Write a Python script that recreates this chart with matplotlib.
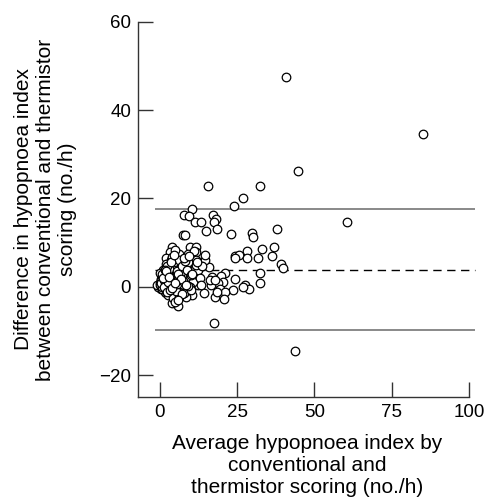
import numpy as np
import matplotlib.pyplot as plt

plt.rcParams['font.family'] = ['Liberation Sans', 'DejaVu Sans']

# 平均值(横轴) 与 差值(纵轴)
avg_index = [40.8, 85.1, 44.7, 15.5, 32.3, 27.0, 23.9, 10.6, 8.0, 9.5,
             17.2, 18.3, 17.7, 11.5, 13.2, 60.7, 14.9, 18.6, 23.2, 29.7,
             30.3, 38.0, 7.5, 8.3, 4.0, 9.7, 11.7, 28.2, 33.2, 36.9,
             24.4, 25.8, 24.4, 28.3, 31.8, 36.4, 39.3, 39.8, 32.3, 32.3,
             27.5, 28.8, 26.9, 24.4, 23.7, 21.1, 17.4, 43.7, 14.4,
             15.8, 17.0, 19.8, 20.5, 18.8, 19.4, 21.0, 20.7, 17.8, 16.7,
             16.4, 18.0, 18.5, 12.4, 12.3, 10.3, 8.6, 5.9, 4.0, 11.8,
             10.3, 8.8, 12.3, 14.8, 14.8, 11.8, 11.7, 11.7, 9.1, 9.1,
             7.5, 6.2, 3.2, 4.8, 2.1, 3.8, 5.4, 7.0, 1.1, 2.7,
             4.8, 6.4, 8.0, 9.7, 10.8, 9.7, 9.1, 7.5, 6.4, 5.4,
             3.8, 3.2, 2.1, 1.6, 0.5, -0.5, -0.9, 0.0, 0.5, 1.1,
             2.1, 3.2, 4.3, 5.4, 2.7, 4.3, 4.8, 6.4, 8.0, 10.2,
             0.2, 0.8, 1.4, 1.9, 2.5, 3.0, 3.6, 4.1, 4.6, 5.2,
             0.3, 1.0, 1.7, 2.3, 2.9, 3.4, 4.0, 4.9, 5.7, 6.5,
             0.6, 1.2, 1.8, 2.6, 3.3, 4.4, 5.0, 5.9, 6.8, 7.6,
             1.5, 2.2, 3.1, 3.9, 4.7, 5.5, 6.3, 7.2, 8.2, 9.0,
             0.9, 1.6, 2.4, 3.5, 4.5, 5.8, 6.9, 7.9, 8.9, 10.0,
             12.9, 13.6, 11.0, 9.4, 8.4, 7.1, 6.0, 13.4, 12.0, 10.5,
             0.4, 1.3, 2.0, 2.8, 3.7, 0.7, 1.5, 2.3, 3.2, 4.2,
             0.1, 0.9, 1.8, 2.6, 3.4, 1.1, 2.1, 3.0, 3.9, 4.8]
diff_index = [47.5, 34.5, 26.2, 22.8, 22.9, 20.2, 18.3, 17.6, 16.2, 16.0,
              16.2, 15.4, 14.6, 14.7, 14.7, 14.6, 12.7, 13.0, 12.0, 12.1,
              11.3, 13.1, 11.8, 11.8, 9.1, 9.1, 9.1, 8.1, 8.6, 8.9,
              6.9, 7.1, 6.4, 6.6, 6.6, 7.0, 5.1, 4.2, 3.0, 0.9,
              0.5, -0.4, 0.0, 1.8, -0.7, 3.2, -8.3, -14.6, -1.5,
              4.4, 2.3, 2.4, 1.1, 0.8, -0.4, -1.1, -2.8, -2.4, 0.4,
              1.5, 1.5, -1.1, 1.1, 0.4, -1.9, -2.4, -4.4, -3.6, 3.2,
              4.5, 4.2, 3.8, 6.0, 7.2, 7.9, 6.0, 4.9, 5.7, 7.5,
              6.2, 7.5, 7.9, 8.3, 6.4, 6.0, 5.3, 4.5, 3.8, 4.2,
              3.8, 3.0, 2.3, 2.1, 1.1, 0.0, -0.8, -1.5, -1.1, -0.4,
              0.0, 0.4, -1.5, -1.1, -0.4, 0.0, 0.4, 0.8, 1.5, 2.3,
              1.9, 1.5, 1.9, 1.1, -1.9, -2.6, -3.4, -2.3, -1.5, -0.8,
              0.3, -0.2, 0.6, 0.1, 0.9, -0.5, 1.3, 0.4, 2.0, -0.9,
              1.8, 2.6, 3.1, -0.3, 2.2, 3.3, 2.7, 1.4, 0.7, 4.6,
              -0.6, 1.0, 2.9, 3.6, 1.6, 4.9, 5.8, 2.4, 3.4, 1.2,
              2.5, 5.2, 4.0, 6.8, 5.5, 3.5, 6.1, 4.8, 5.9, 0.2,
              -0.1, 3.9, 4.7, 5.6, 7.1, 2.8, 1.7, 6.6, 3.7, 2.6,
              2.0, 4.8, 8.2, 6.9, 0.5, -1.6, -2.9, 0.3, 5.5, 2.9,
              0.8, 1.6, -0.8, 0.5, 1.1, 2.4, 0.0, -1.2, 2.1, 0.6,
              3.2, 2.9, 3.7, 1.0, -0.7, 1.9, 3.6, 2.2, -0.2, 0.9]

mean_diff = 3.9
upper_loa = 17.6
lower_loa = -9.7

fig = plt.figure(figsize=(4.86, 4.97), dpi=100)
ax = fig.add_axes([0.284, 0.201, 0.697, 0.755])

ax.scatter(avg_index, diff_index, s=38, facecolors='white', edgecolors='black',
           linewidths=0.9, zorder=3)
ax.hlines([upper_loa, lower_loa], -1.5, 102, colors='#808080', linewidth=1.3, zorder=2)
ax.hlines(mean_diff, -1.5, 102, colors='black', linewidth=1.0,
          linestyles=(0, (6, 4)), zorder=2)

ax.set_xlim(-7, 102.5)
ax.set_ylim(-25, 60)
ax.spines['top'].set_visible(False)
ax.spines['right'].set_visible(False)
ax.spines['bottom'].set_bounds(-7, 100)
for s in ['left', 'bottom']:
    ax.spines[s].set_color('#333333')
    ax.spines[s].set_linewidth(1.0)

ax.set_xticks([0, 25, 50, 75, 100])
ax.set_yticks([-20, 0, 20, 40, 60])
ax.set_yticklabels(['\u221220', '0', '20', '40', '60'])
ax.tick_params(direction='in', length=11, width=1.0, color='#333333',
               labelsize=13.5, pad=5)

ax.set_xlabel("Average hypopnoea index by\nconventional and\nthermistor scoring (no./h)",
              fontsize=15, labelpad=9)
ax.set_ylabel("Difference in hypopnoea index\nbetween conventional and thermistor\nscoring (no./h)",
              fontsize=15, labelpad=16)

fig.savefig('out.png', dpi=100)
